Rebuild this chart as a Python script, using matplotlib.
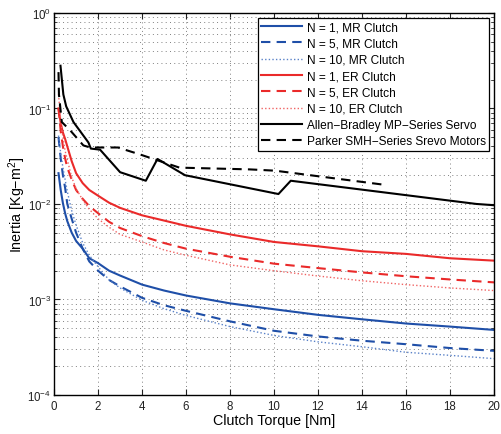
import matplotlib
matplotlib.use("Agg")
import matplotlib.pyplot as plt
from matplotlib.ticker import LogLocator, MultipleLocator, NullFormatter

plt.rcParams['font.family'] = ['Liberation Sans', 'DejaVu Sans']
plt.rcParams['mathtext.fontset'] = 'custom'
plt.rcParams['mathtext.rm'] = 'Liberation Sans'
plt.rcParams['mathtext.it'] = 'Liberation Sans:italic'

# torque grid used for the clutch curves [Nm]
torque = [0.2, 0.3, 0.4, 0.5, 0.6, 0.8, 1.0, 1.3, 1.6, 2, 2.5, 3, 4, 5, 6, 8, 10, 12, 14, 16, 18, 20]

mr_n1 = [0.021, 0.014, 0.0102, 0.0080, 0.0066, 0.0050, 0.0041, 0.0034, 0.0027, 0.0024, 0.0020, 0.00178,
         0.00143, 0.00124, 0.00110, 0.00091, 0.00079, 0.00069, 0.00062, 0.00056, 0.00052, 0.00048]
mr_n5 = [0.050, 0.030, 0.020, 0.0148, 0.0100, 0.0070, 0.0050, 0.0034, 0.0025, 0.0020, 0.0016, 0.00137,
         0.00104, 0.00087, 0.00076, 0.00059, 0.00047, 0.00041, 0.00037, 0.00034, 0.00031, 0.00029]
mr_n10 = [0.052, 0.034, 0.024, 0.018, 0.0135, 0.0085, 0.0060, 0.0039, 0.0029, 0.0022, 0.0016, 0.00132,
          0.00098, 0.00080, 0.00068, 0.00052, 0.00042, 0.00036, 0.00032, 0.00028, 0.00026, 0.00024]
er_n1 = [0.100, 0.070, 0.056, 0.048, 0.040, 0.028, 0.021, 0.0165, 0.0140, 0.0122, 0.0103, 0.0091,
         0.0076, 0.0067, 0.0059, 0.0048, 0.0040, 0.0036, 0.0032, 0.0030, 0.0027, 0.00255]
er_n5 = [0.100, 0.058, 0.040, 0.030, 0.024, 0.018, 0.014, 0.0113, 0.0095, 0.0080, 0.0065, 0.0056,
         0.0046, 0.0039, 0.0034, 0.0028, 0.00237, 0.00213, 0.00192, 0.00175, 0.00162, 0.00151]
er_n10 = [0.140, 0.075, 0.050, 0.036, 0.029, 0.019, 0.0145, 0.0110, 0.0088, 0.0070, 0.0057, 0.0048,
          0.0040, 0.0033, 0.0029, 0.0023, 0.0020, 0.00176, 0.00157, 0.00143, 0.00132, 0.00124]

ab_torque = [0.29, 0.42, 0.55, 0.88, 1.56, 1.67, 2.09, 3.0, 4.17, 4.7, 5.95, 10.2, 10.76, 19.2, 20]
ab_inertia = [0.28, 0.14, 0.105, 0.072, 0.044, 0.038, 0.037, 0.0215, 0.0175, 0.0296, 0.020, 0.0127, 0.0175, 0.0100, 0.0097]

pk_torque = [0.2, 0.22, 0.35, 0.73, 1.33, 1.64, 2.9, 3.9, 5.7, 8.9, 10.05, 14.9]
pk_inertia = [0.24, 0.14, 0.072, 0.059, 0.041, 0.039, 0.039, 0.033, 0.024, 0.023, 0.0223, 0.016]

blue = '#1f4fa8'
red = '#ea2a2a'
light_blue = '#5a82c8'
light_red = '#f06464'
dash = (0, (4.5, 3))
dot = (0, (1, 1.6))

fig = plt.figure(figsize=(5.01, 4.35), dpi=100)
ax = fig.add_axes([0.108, 0.0897, 0.878, 0.8783])

ax.semilogy(torque, mr_n1, color=blue, lw=1.5, label='N = 1, MR Clutch')
ax.semilogy(torque, mr_n5, color=blue, lw=1.5, ls=dash, label='N = 5, MR Clutch')
ax.semilogy(torque, mr_n10, color=light_blue, lw=1.0, ls=dot, label='N = 10, MR Clutch')
ax.semilogy(torque, er_n1, color=red, lw=1.5, label='N = 1, ER Clutch')
ax.semilogy(torque, er_n5, color=red, lw=1.5, ls=dash, label='N = 5, ER Clutch')
ax.semilogy(torque, er_n10, color=light_red, lw=1.0, ls=dot, label='N = 10, ER Clutch')
ax.semilogy(ab_torque, ab_inertia, color='black', lw=1.5, label='Allen\u2212Bradley MP\u2212Series Servo')
ax.semilogy(pk_torque, pk_inertia, color='black', lw=1.5, ls=dash, label='Parker SMH\u2212Series Srevo Motors')

ax.set_xlim(0, 20)
ax.set_ylim(1e-4, 1)
ax.xaxis.set_major_locator(MultipleLocator(2))
ax.yaxis.set_major_locator(LogLocator(base=10))
ax.yaxis.set_minor_locator(LogLocator(base=10, subs=range(2, 10)))
ax.yaxis.set_minor_formatter(NullFormatter())

ax.grid(True, which='major', ls=(0, (1, 3.4)), color='#808080', lw=0.7)
ax.grid(True, which='minor', axis='y', ls=(0, (1, 3.4)), color='#808080', lw=0.7)

ax.tick_params(which='both', direction='in', top=True, right=True, labelsize=8.3, colors='#222222')
ax.tick_params(axis='y', which='major', pad=2)
ax.tick_params(which='major', length=4)
ax.tick_params(which='minor', length=2)
for s in ax.spines.values():
    s.set_linewidth(1.0)

ax.set_xlabel('Clutch Torque [Nm]', fontsize=10.3, labelpad=1)
ax.set_ylabel('Inertia [Kg\u2212m$^2$]', fontsize=10.3)
ax.yaxis.set_label_coords(-0.06, 0.5)

leg = ax.legend(loc='upper right', fontsize=8.6, handlelength=3.4, labelspacing=0.36,
                fancybox=False, framealpha=1, edgecolor='black', borderpad=0.3,
                handletextpad=0.4, borderaxespad=0.4)
leg.get_frame().set_linewidth(0.9)

fig.savefig('out.png', dpi=100)
